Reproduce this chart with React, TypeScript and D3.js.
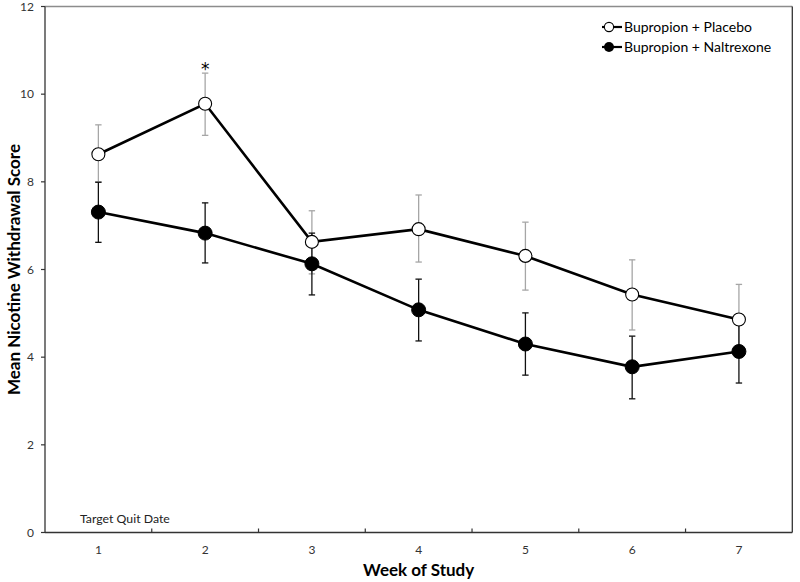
import React from "react";
import * as d3 from "d3";

const weeks = ["1", "2", "3", "4", "5", "6", "7"];
const placeboMean = [8.63, 9.78, 6.63, 6.92, 6.31, 5.43, 4.86];
const placeboLow = [8.0, 9.06, 5.9, 6.17, 5.53, 4.62, 4.06];
const placeboHigh = [9.3, 10.48, 7.34, 7.7, 7.08, 6.22, 5.66];
const naltrexoneMean = [7.31, 6.83, 6.13, 5.08, 4.3, 3.78, 4.13];
const naltrexoneLow = [6.62, 6.15, 5.42, 4.37, 3.59, 3.05, 3.41];
const naltrexoneHigh = [7.99, 7.52, 6.83, 5.78, 5.01, 4.48, 4.85];
const yTicks = [0, 2, 4, 6, 8, 10, 12];
const seriesNames = ["Bupropion + Placebo", "Bupropion + Naltrexone"];
const significantWeeks = ["2"];

const W = 800;
const H = 582;
const left = 45;
const right = 792.3;
const top = 6.5;
const bottom = 532.5;
const FONT = "Lato, 'Open Sans', sans-serif";

export default function App() {
  const x = d3.scaleBand<string>().domain(weeks).range([left, right]).padding(0);
  const y = d3.scaleLinear().domain([0, 12]).range([bottom, top]);
  const cx = (w: string) => (x(w) as number) + x.bandwidth() / 2;

  const line = d3
    .line<number>()
    .x((_, i) => cx(weeks[i]))
    .y((d) => y(d));

  const capW = 3.2;
  const errBars = (lo: number[], hi: number[], color: string, key: string) =>
    weeks.map((w, i) => (
      <g key={key + w} stroke={color} strokeWidth={1.3}>
        <line x1={cx(w)} x2={cx(w)} y1={y(lo[i])} y2={y(hi[i])} />
        <line x1={cx(w) - capW} x2={cx(w) + capW} y1={y(lo[i])} y2={y(lo[i])} />
        <line x1={cx(w) - capW} x2={cx(w) + capW} y1={y(hi[i])} y2={y(hi[i])} />
      </g>
    ));

  const xBoundaries = d3.range(1, weeks.length).map((i) => left + i * x.bandwidth());

  return (
    <svg width={W} height={H} style={{ position: "absolute", left: 0, top: 0, background: "#fff" }}>
      <rect width={W} height={H} fill="#fff" />
      {/* frame */}
      <line x1={left} x2={right} y1={top} y2={top} stroke="#8c8c8c" strokeWidth={1.3} />
      <line x1={right} x2={right} y1={top} y2={bottom} stroke="#333" strokeWidth={1.3} />
      <line x1={left} x2={left} y1={top} y2={bottom} stroke="#333" strokeWidth={1.3} />
      <line x1={left} x2={right} y1={bottom} y2={bottom} stroke="#333" strokeWidth={1.3} />

      {/* y ticks */}
      {yTicks.map((t) => (
        <g key={"yt" + t}>
          <line x1={left - 4} x2={left} y1={y(t)} y2={y(t)} stroke="#333" strokeWidth={1.2} />
          <text
            x={left - 11}
            y={y(t)}
            dy="0.35em"
            textAnchor="end"
            fontFamily={FONT}
            fontSize={12}
            fill="#333"
          >
            {t}
          </text>
        </g>
      ))}

      {/* x ticks */}
      {xBoundaries.map((b, i) => (
        <line key={"xb" + i} x1={b} x2={b} y1={bottom - 4} y2={bottom} stroke="#333" strokeWidth={1.2} />
      ))}
      {weeks.map((w) => (
        <text
          key={"xl" + w}
          x={cx(w)}
          y={bottom + 21}
          textAnchor="middle"
          fontFamily={FONT}
          fontSize={12}
          fill="#333"
        >
          {w}
        </text>
      ))}

      {/* axis titles */}
      <text
        x={(left + right) / 2}
        y={576}
        textAnchor="middle"
        fontFamily={FONT}
        fontWeight="bold"
        fontSize={17}
        fill="#000"
      >
        Week of Study
      </text>
      <text
        transform={`translate(20, ${(top + bottom) / 2}) rotate(-90)`}
        textAnchor="middle"
        fontFamily={FONT}
        fontWeight="bold"
        fontSize={17}
        fill="#000"
      >
        Mean Nicotine Withdrawal Score
      </text>

      <text x={80} y={523} fontFamily={FONT} fontSize={12.3} fill="#222">
        Target Quit Date
      </text>

      {/* error bars */}
      {errBars(placeboLow, placeboHigh, "#a6a6a6", "p")}
      {errBars(naltrexoneLow, naltrexoneHigh, "#111", "n")}

      {/* lines */}
      <path d={line(placeboMean) || ""} fill="none" stroke="#000" strokeWidth={2.6} />
      <path d={line(naltrexoneMean) || ""} fill="none" stroke="#000" strokeWidth={2.6} />

      {/* markers */}
      {weeks.map((w, i) => (
        <circle key={"pm" + w} cx={cx(w)} cy={y(placeboMean[i])} r={6.5} fill="#fff" stroke="#000" strokeWidth={1.1} />
      ))}
      {weeks.map((w, i) => (
        <circle key={"nm" + w} cx={cx(w)} cy={y(naltrexoneMean[i])} r={7} fill="#000" stroke="#000" strokeWidth={1} />
      ))}

      {/* significance */}
      {significantWeeks.map((w) => {
        const i = weeks.indexOf(w);
        return (
          <text
            key={"sig" + w}
            x={cx(w)}
            y={y(placeboHigh[i]) + 2}
            textAnchor="middle"
            fontFamily="'DejaVu Sans', sans-serif"
            fontSize={17}
            fill="#000"
          >
            *
          </text>
        );
      })}

      {/* legend */}
      {seriesNames.map((name, i) => {
        const ly = 27 + i * 20;
        return (
          <g key={"lg" + i}>
            <line x1={602} x2={622} y1={ly} y2={ly} stroke="#000" strokeWidth={2.2} />
            {i === 0 ? (
              <circle cx={609} cy={ly} r={4.6} fill="#fff" stroke="#000" strokeWidth={1.1} />
            ) : (
              <circle cx={609} cy={ly} r={5} fill="#000" />
            )}
            <text x={624} y={ly} dy="0.35em" fontFamily={FONT} fontSize={14} fill="#000">
              {name}
            </text>
          </g>
        );
      })}
    </svg>
  );
}
